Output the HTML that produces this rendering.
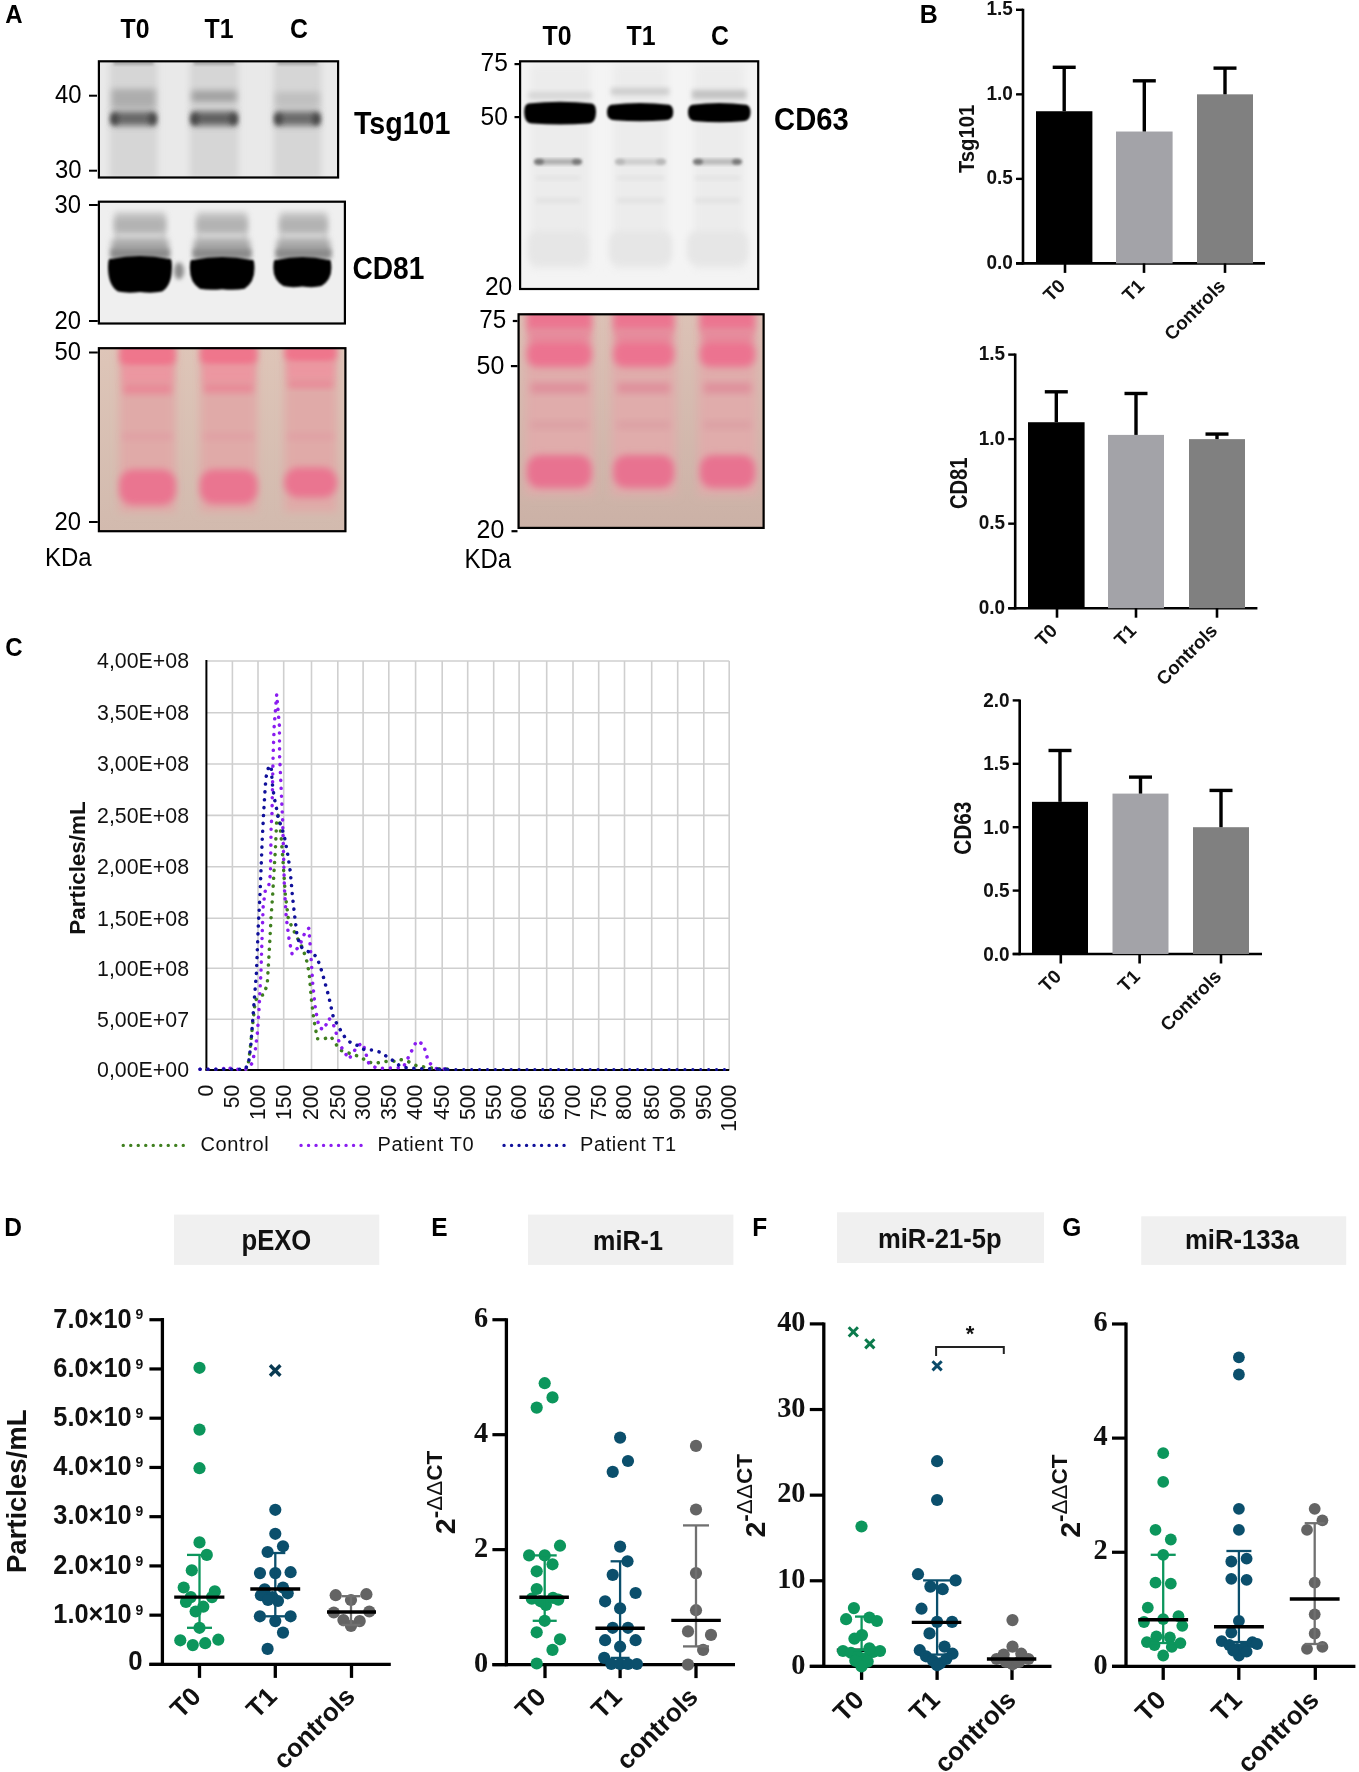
<!DOCTYPE html>
<html><head><meta charset="utf-8"><style>
html,body{margin:0;padding:0;background:#fff;}
body{width:1359px;height:1772px;overflow:hidden;position:relative;font-family:"Liberation Sans",sans-serif;}
svg{position:absolute;left:0;top:0;will-change:transform;}
</style></head><body>
<svg width="1359" height="1772" viewBox="0 0 1359 1772">
<defs><filter id="b3" x="-50%" y="-50%" width="200%" height="200%"><feGaussianBlur stdDeviation="3"/></filter><filter id="b1_5" x="-50%" y="-50%" width="200%" height="200%"><feGaussianBlur stdDeviation="1.5"/></filter><filter id="b2_5" x="-50%" y="-50%" width="200%" height="200%"><feGaussianBlur stdDeviation="2.5"/></filter><filter id="b2" x="-50%" y="-50%" width="200%" height="200%"><feGaussianBlur stdDeviation="2"/></filter><filter id="b1_2" x="-50%" y="-50%" width="200%" height="200%"><feGaussianBlur stdDeviation="1.2"/></filter><linearGradient id="pg1" x1="0" y1="0" x2="0" y2="1"><stop offset="0" stop-color="#dec5b8"/><stop offset="1" stop-color="#d2baae"/></linearGradient><filter id="b4" x="-50%" y="-50%" width="200%" height="200%"><feGaussianBlur stdDeviation="4"/></filter><filter id="b3_5" x="-50%" y="-50%" width="200%" height="200%"><feGaussianBlur stdDeviation="3.5"/></filter><filter id="b1" x="-50%" y="-50%" width="200%" height="200%"><feGaussianBlur stdDeviation="1"/></filter><linearGradient id="pg2" x1="0" y1="0" x2="0" y2="1"><stop offset="0" stop-color="#dcc2b6"/><stop offset="1" stop-color="#cbb1a6"/></linearGradient><filter id="b5" x="-50%" y="-50%" width="200%" height="200%"><feGaussianBlur stdDeviation="5"/></filter></defs>
<text transform="translate(5.2,23.1) scale(0.96,1)" font-family="Liberation Sans" font-size="25" font-weight="bold" text-anchor="start" fill="#000" >A</text>
<text transform="translate(135,37.5) scale(0.92,1)" font-family="Liberation Sans" font-size="27" font-weight="bold" text-anchor="middle" fill="#000" >T0</text>
<text transform="translate(219,37.5) scale(0.92,1)" font-family="Liberation Sans" font-size="27" font-weight="bold" text-anchor="middle" fill="#000" >T1</text>
<text transform="translate(299,37.5) scale(0.92,1)" font-family="Liberation Sans" font-size="27" font-weight="bold" text-anchor="middle" fill="#000" >C</text>
<text transform="translate(557,45.4) scale(0.92,1)" font-family="Liberation Sans" font-size="27" font-weight="bold" text-anchor="middle" fill="#000" >T0</text>
<text transform="translate(641,45.4) scale(0.92,1)" font-family="Liberation Sans" font-size="27" font-weight="bold" text-anchor="middle" fill="#000" >T1</text>
<text transform="translate(720,45.4) scale(0.92,1)" font-family="Liberation Sans" font-size="27" font-weight="bold" text-anchor="middle" fill="#000" >C</text>
<clipPath id="c1"><rect x="97.8" y="60.2" width="241.39999999999998" height="118.39999999999999"/></clipPath>
<g clip-path="url(#c1)">
<rect x="97.8" y="60.2" width="241.39999999999998" height="118.39999999999999" fill="#e9e9e9" />
<rect x="109.6" y="60.2" width="48.0" height="118.39999999999999" fill="#d6d6d6" filter="url(#b3)"/>
<rect x="113.6" y="61" width="40.0" height="4" fill="#a8a8a8" filter="url(#b1_5)"/>
<rect x="111.6" y="89" width="44.0" height="19" fill="#adadad" filter="url(#b3)"/>
<rect x="111.6" y="111.5" width="44.0" height="14" fill="#686868" filter="url(#b3)"/>
<ellipse cx="114.6" cy="119" rx="4" ry="6" fill="#454545" filter="url(#b2_5)"/>
<ellipse cx="152.6" cy="119" rx="4" ry="6" fill="#454545" filter="url(#b2_5)"/>
<rect x="189.7" y="60.2" width="48.900000000000006" height="118.39999999999999" fill="#d6d6d6" filter="url(#b3)"/>
<rect x="193.7" y="61" width="40.900000000000006" height="4" fill="#a8a8a8" filter="url(#b1_5)"/>
<rect x="191.7" y="90.5" width="44.900000000000006" height="11.5" fill="#a2a2a2" filter="url(#b3)"/>
<rect x="191.7" y="111.5" width="44.900000000000006" height="14" fill="#606060" filter="url(#b3)"/>
<ellipse cx="194.7" cy="119" rx="4" ry="6" fill="#454545" filter="url(#b2_5)"/>
<ellipse cx="233.6" cy="119" rx="4" ry="6" fill="#454545" filter="url(#b2_5)"/>
<rect x="273.4" y="60.2" width="47.900000000000034" height="118.39999999999999" fill="#d6d6d6" filter="url(#b3)"/>
<rect x="277.4" y="61" width="39.900000000000034" height="4" fill="#a8a8a8" filter="url(#b1_5)"/>
<rect x="275.4" y="92" width="43.900000000000034" height="15" fill="#c0c0c0" filter="url(#b3)"/>
<rect x="275.4" y="111.5" width="43.900000000000034" height="14" fill="#6a6a6a" filter="url(#b3)"/>
<ellipse cx="278.4" cy="119" rx="4" ry="6" fill="#454545" filter="url(#b2_5)"/>
<ellipse cx="316.3" cy="119" rx="4" ry="6" fill="#454545" filter="url(#b2_5)"/>
</g>
<rect x="98.89999999999999" y="61.300000000000004" width="239.2" height="116.19999999999999" fill="none" stroke="#000" stroke-width="2.2"/>
<text transform="translate(354,134.4) scale(0.905,1)" font-family="Liberation Sans" font-size="31.6" font-weight="bold" text-anchor="start" fill="#000" >Tsg101</text>
<text transform="translate(81.5,103) scale(0.95,1)" font-family="Liberation Sans" font-size="25.1" font-weight="normal" text-anchor="end" fill="#000" >40</text>
<text transform="translate(81.5,178) scale(0.95,1)" font-family="Liberation Sans" font-size="25.1" font-weight="normal" text-anchor="end" fill="#000" >30</text>
<line x1="89" y1="95.7" x2="97" y2="95.7" stroke="#000" stroke-width="2" />
<line x1="89" y1="170.7" x2="97" y2="170.7" stroke="#000" stroke-width="2" />
<clipPath id="c2"><rect x="97.8" y="200.6" width="248.2" height="124.00000000000003"/></clipPath>
<g clip-path="url(#c2)">
<rect x="97.8" y="200.6" width="248.2" height="124.00000000000003" fill="#efefef" />
<rect x="114.7" y="212" width="50.7" height="48" fill="#c8c8c8" filter="url(#b3)"/>
<rect x="114.7" y="218" width="50.7" height="14" fill="#b2b2b2" filter="url(#b3)"/>
<rect x="117.7" y="234" width="44.7" height="6" fill="#d2d2d2" filter="url(#b2)"/>
<rect x="111.7" y="240" width="56.7" height="18" fill="#a8a8a8" filter="url(#b3)"/>
<rect x="110.7" y="249" width="58.7" height="9" fill="#8a8a8a" filter="url(#b2_5)"/>
<path d="M111,259 Q108,257 108,267 Q108,285.5 118,291.5 Q127.2,293.5 140.0,292.0 Q152.8,293.5 162,291.5 Q172,285.5 172,267 Q172,257 169,259 Q140.0,253 111,259Z" fill="#060606" filter="url(#b1_2)"/>
<rect x="197" y="212" width="50" height="48" fill="#c8c8c8" filter="url(#b3)"/>
<rect x="197" y="218" width="50" height="14" fill="#b2b2b2" filter="url(#b3)"/>
<rect x="200" y="234" width="44" height="6" fill="#d2d2d2" filter="url(#b2)"/>
<rect x="194" y="240" width="56" height="18" fill="#a8a8a8" filter="url(#b3)"/>
<rect x="193" y="249" width="58" height="9" fill="#8a8a8a" filter="url(#b2_5)"/>
<path d="M192.8,260 Q189.8,258 189.8,268 Q189.8,282.7 199.8,288.7 Q209.21,290.7 222.15,289.2 Q235.09,290.7 244.5,288.7 Q254.5,282.7 254.5,268 Q254.5,258 251.5,260 Q222.15,254 192.8,260Z" fill="#060606" filter="url(#b1_2)"/>
<rect x="280" y="212" width="47" height="48" fill="#c8c8c8" filter="url(#b3)"/>
<rect x="280" y="218" width="47" height="14" fill="#b2b2b2" filter="url(#b3)"/>
<rect x="283" y="234" width="41" height="6" fill="#d2d2d2" filter="url(#b2)"/>
<rect x="277" y="240" width="53" height="18" fill="#a8a8a8" filter="url(#b3)"/>
<rect x="276" y="249" width="55" height="9" fill="#8a8a8a" filter="url(#b2_5)"/>
<path d="M276.3,260 Q273.3,258 273.3,268 Q273.3,280 283.3,286 Q290.73,288 302.35,286.5 Q313.96999999999997,288 321.4,286 Q331.4,280 331.4,268 Q331.4,258 328.4,260 Q302.35,254 276.3,260Z" fill="#060606" filter="url(#b1_2)"/>
<ellipse cx="179" cy="271" rx="5" ry="8.5" fill="#8c8c8c" filter="url(#b2)"/>
</g>
<rect x="98.89999999999999" y="201.7" width="246.0" height="121.80000000000003" fill="none" stroke="#000" stroke-width="2.2"/>
<text transform="translate(352.4,278.7) scale(0.89,1)" font-family="Liberation Sans" font-size="31.6" font-weight="bold" text-anchor="start" fill="#000" >CD81</text>
<text transform="translate(81,213) scale(0.95,1)" font-family="Liberation Sans" font-size="25.1" font-weight="normal" text-anchor="end" fill="#000" >30</text>
<text transform="translate(81,329) scale(0.95,1)" font-family="Liberation Sans" font-size="25.1" font-weight="normal" text-anchor="end" fill="#000" >20</text>
<line x1="89" y1="205" x2="97.8" y2="205" stroke="#000" stroke-width="2" />
<line x1="89" y1="321" x2="97.8" y2="321" stroke="#000" stroke-width="2" />
<clipPath id="c3"><rect x="97.8" y="347.1" width="248.7" height="185.19999999999993"/></clipPath>
<g clip-path="url(#c3)">
<rect x="97.8" y="347.1" width="248.7" height="185.19999999999993" fill="url(#pg1)" />
<rect x="119.4" y="347.1" width="56.29999999999998" height="165" fill="#e0aaa8" filter="url(#b4)"/>
<rect x="119.4" y="340" width="56.29999999999998" height="28" rx="10" fill="#ef768c" filter="url(#b3)"/>
<rect x="122.4" y="366" width="50.29999999999998" height="17" fill="#ec96a0" filter="url(#b3)"/>
<rect x="123.4" y="383" width="48.29999999999998" height="11.399999999999977" fill="#e88b98" filter="url(#b3)"/>
<rect x="123.4" y="433" width="48.29999999999998" height="7" fill="#e0a0a4" filter="url(#b3)"/>
<rect x="119.4" y="469.5" width="56.29999999999998" height="35.5" rx="14" fill="#ea7590" filter="url(#b3_5)"/>
<rect x="200" y="347.1" width="57.30000000000001" height="165" fill="#e0aaa8" filter="url(#b4)"/>
<rect x="200" y="340" width="57.30000000000001" height="27" rx="10" fill="#ef768c" filter="url(#b3)"/>
<rect x="203" y="365" width="51.30000000000001" height="18" fill="#ec96a0" filter="url(#b3)"/>
<rect x="204" y="383" width="49.30000000000001" height="10" fill="#e88b98" filter="url(#b3)"/>
<rect x="204" y="433" width="49.30000000000001" height="7" fill="#e0a0a4" filter="url(#b3)"/>
<rect x="200" y="469.5" width="57.30000000000001" height="34.5" rx="14" fill="#ea7590" filter="url(#b3_5)"/>
<rect x="284.5" y="347.1" width="52.5" height="165" fill="#e0aaa8" filter="url(#b4)"/>
<rect x="284.5" y="340" width="52.5" height="24" rx="10" fill="#ef768c" filter="url(#b3)"/>
<rect x="287.5" y="362" width="46.5" height="18" fill="#ec96a0" filter="url(#b3)"/>
<rect x="288.5" y="380" width="44.5" height="8" fill="#e88b98" filter="url(#b3)"/>
<rect x="288.5" y="433" width="44.5" height="7" fill="#e0a0a4" filter="url(#b3)"/>
<rect x="284.5" y="467.6" width="52.5" height="30.0" rx="14" fill="#ea7590" filter="url(#b3_5)"/>
</g>
<rect x="98.89999999999999" y="348.20000000000005" width="246.5" height="182.99999999999994" fill="none" stroke="#000" stroke-width="2.2"/>
<text transform="translate(81,360) scale(0.95,1)" font-family="Liberation Sans" font-size="25.1" font-weight="normal" text-anchor="end" fill="#000" >50</text>
<text transform="translate(81,529.6) scale(0.95,1)" font-family="Liberation Sans" font-size="25.1" font-weight="normal" text-anchor="end" fill="#000" >20</text>
<line x1="89" y1="352.5" x2="97.8" y2="352.5" stroke="#000" stroke-width="2" />
<line x1="89" y1="522" x2="97.8" y2="522" stroke="#000" stroke-width="2" />
<text transform="translate(44.9,565.6) scale(0.905,1)" font-family="Liberation Sans" font-size="26.5" font-weight="normal" text-anchor="start" fill="#000" >KDa</text>
<clipPath id="c4"><rect x="519" y="60.2" width="240.29999999999995" height="229.90000000000003"/></clipPath>
<g clip-path="url(#c4)">
<rect x="519" y="60.2" width="240.29999999999995" height="229.90000000000003" fill="#f4f4f4" />
<rect x="530.2" y="64" width="59.799999999999955" height="205" fill="#ececec" filter="url(#b4)"/>
<rect x="528.2" y="92" width="63.799999999999955" height="7" fill="#d6d6d6" filter="url(#b2_5)"/>
<rect x="536" y="159.5" width="44" height="4.5" fill="#9a9a9a" filter="url(#b2)"/>
<ellipse cx="539" cy="161.7" rx="5" ry="2.8" fill="#767676" filter="url(#b1_5)"/>
<ellipse cx="577" cy="161.7" rx="5" ry="2.8" fill="#767676" filter="url(#b1_5)"/>
<rect x="536" y="176" width="44" height="4" fill="#e2e2e2" filter="url(#b2)"/>
<rect x="536" y="198" width="44" height="5" fill="#e2e2e2" filter="url(#b2)"/>
<rect x="528" y="231" width="60" height="34" rx="10" fill="#e6e6e6" filter="url(#b3)"/>
<path d="M528.2,103.5 Q524.2,104.5 524.2,111.5 Q524.2,123.4 532.2,123.4 Q560.1,125.4 588,123.4 Q596,123.4 596,111.5 Q596,104.5 592,103.5 Q560.1,100.0 528.2,103.5Z" fill="#050505" filter="url(#b1)"/>
<rect x="613" y="64" width="54.200000000000045" height="205" fill="#ececec" filter="url(#b4)"/>
<rect x="611" y="88" width="58.200000000000045" height="7" fill="#cdcdcd" filter="url(#b2_5)"/>
<rect x="617" y="159.5" width="47" height="4.5" fill="#c4c4c4" filter="url(#b2)"/>
<ellipse cx="620" cy="161.7" rx="5" ry="2.8" fill="#b8b8b8" filter="url(#b1_5)"/>
<ellipse cx="661" cy="161.7" rx="5" ry="2.8" fill="#b8b8b8" filter="url(#b1_5)"/>
<rect x="617" y="176" width="47" height="4" fill="#e2e2e2" filter="url(#b2)"/>
<rect x="617" y="198" width="47" height="5" fill="#e2e2e2" filter="url(#b2)"/>
<rect x="609" y="231" width="63" height="34" rx="10" fill="#e6e6e6" filter="url(#b3)"/>
<path d="M611,104.7 Q607,105.7 607,112.7 Q607,120.3 615,120.3 Q640.1,122.3 665.2,120.3 Q673.2,120.3 673.2,112.7 Q673.2,105.7 669.2,104.7 Q640.1,101.2 611,104.7Z" fill="#050505" filter="url(#b1)"/>
<rect x="694" y="64" width="50.5" height="205" fill="#ececec" filter="url(#b4)"/>
<rect x="692" y="90" width="54.5" height="9" fill="#c2c2c2" filter="url(#b2_5)"/>
<rect x="695" y="159.5" width="45" height="4.5" fill="#a8a8a8" filter="url(#b2)"/>
<ellipse cx="698" cy="161.7" rx="5" ry="2.8" fill="#767676" filter="url(#b1_5)"/>
<ellipse cx="737" cy="161.7" rx="5" ry="2.8" fill="#767676" filter="url(#b1_5)"/>
<rect x="695" y="176" width="45" height="4" fill="#e2e2e2" filter="url(#b2)"/>
<rect x="695" y="198" width="45" height="5" fill="#e2e2e2" filter="url(#b2)"/>
<rect x="687" y="231" width="61" height="34" rx="10" fill="#e6e6e6" filter="url(#b3)"/>
<path d="M692,104.7 Q688,105.7 688,112.7 Q688,121.2 696,121.2 Q719.25,123.2 742.5,121.2 Q750.5,121.2 750.5,112.7 Q750.5,105.7 746.5,104.7 Q719.25,101.2 692,104.7Z" fill="#050505" filter="url(#b1)"/>
</g>
<rect x="520.1" y="61.300000000000004" width="238.09999999999997" height="227.70000000000005" fill="none" stroke="#000" stroke-width="2.2"/>
<text transform="translate(774.1,130.4) scale(0.93,1)" font-family="Liberation Sans" font-size="31.4" font-weight="bold" text-anchor="start" fill="#000" >CD63</text>
<text transform="translate(507.8,70.8) scale(0.97,1)" font-family="Liberation Sans" font-size="25.3" font-weight="normal" text-anchor="end" fill="#000" >75</text>
<text transform="translate(507.8,125) scale(0.97,1)" font-family="Liberation Sans" font-size="25.3" font-weight="normal" text-anchor="end" fill="#000" >50</text>
<text transform="translate(512.2,294.6) scale(0.97,1)" font-family="Liberation Sans" font-size="25.3" font-weight="normal" text-anchor="end" fill="#000" >20</text>
<line x1="514.5" y1="64.1" x2="519" y2="64.1" stroke="#000" stroke-width="2.2" />
<line x1="514.5" y1="117.1" x2="519" y2="117.1" stroke="#000" stroke-width="2.2" />
<clipPath id="c5"><rect x="517.5" y="313.2" width="247.20000000000005" height="215.8"/></clipPath>
<g clip-path="url(#c5)">
<rect x="517.5" y="313.2" width="247.20000000000005" height="215.8" fill="url(#pg2)" />
<rect x="525" y="313.2" width="68.60000000000002" height="182" fill="#e0acab" filter="url(#b5)"/>
<rect x="527" y="305" width="64.60000000000002" height="28" rx="8" fill="#ec7590" filter="url(#b3_5)"/>
<rect x="529" y="328" width="60.60000000000002" height="16" fill="#e68c9c" filter="url(#b3_5)"/>
<rect x="527" y="341" width="64.60000000000002" height="26" rx="10" fill="#ec7390" filter="url(#b3_5)"/>
<rect x="531" y="383" width="56.60000000000002" height="10" fill="#df8f9b" filter="url(#b3_5)"/>
<rect x="531" y="421" width="56.60000000000002" height="8" fill="#dca0a4" filter="url(#b3_5)"/>
<rect x="527" y="455" width="64.60000000000002" height="33" rx="13" fill="#e87290" filter="url(#b3_5)"/>
<rect x="611.5" y="313.2" width="64.5" height="182" fill="#e0acab" filter="url(#b5)"/>
<rect x="613.5" y="305" width="60.5" height="28" rx="8" fill="#ec7590" filter="url(#b3_5)"/>
<rect x="615.5" y="328" width="56.5" height="16" fill="#e68c9c" filter="url(#b3_5)"/>
<rect x="613.5" y="341" width="60.5" height="26" rx="10" fill="#ec7390" filter="url(#b3_5)"/>
<rect x="617.5" y="383" width="52.5" height="10" fill="#df8f9b" filter="url(#b3_5)"/>
<rect x="617.5" y="421" width="52.5" height="8" fill="#dca0a4" filter="url(#b3_5)"/>
<rect x="613.5" y="455" width="60.5" height="33" rx="13" fill="#e87290" filter="url(#b3_5)"/>
<rect x="698" y="313.2" width="59" height="182" fill="#e0acab" filter="url(#b5)"/>
<rect x="700" y="305" width="55" height="28" rx="8" fill="#ec7590" filter="url(#b3_5)"/>
<rect x="702" y="328" width="51" height="16" fill="#e68c9c" filter="url(#b3_5)"/>
<rect x="700" y="341" width="55" height="26" rx="10" fill="#ec7390" filter="url(#b3_5)"/>
<rect x="704" y="383" width="47" height="10" fill="#df8f9b" filter="url(#b3_5)"/>
<rect x="704" y="421" width="47" height="8" fill="#dca0a4" filter="url(#b3_5)"/>
<rect x="700" y="455" width="55" height="33" rx="13" fill="#e87290" filter="url(#b3_5)"/>
</g>
<rect x="518.6" y="314.3" width="245.00000000000006" height="213.60000000000002" fill="none" stroke="#000" stroke-width="2.2"/>
<text transform="translate(506.3,328.2) scale(0.97,1)" font-family="Liberation Sans" font-size="25" font-weight="normal" text-anchor="end" fill="#000" >75</text>
<text transform="translate(504.3,373.6) scale(0.97,1)" font-family="Liberation Sans" font-size="25.7" font-weight="normal" text-anchor="end" fill="#000" >50</text>
<text transform="translate(504.3,538) scale(0.97,1)" font-family="Liberation Sans" font-size="25.7" font-weight="normal" text-anchor="end" fill="#000" >20</text>
<line x1="512.8" y1="321" x2="517.5" y2="321" stroke="#000" stroke-width="2.2" />
<line x1="510.9" y1="366.1" x2="517.5" y2="366.1" stroke="#000" stroke-width="2.2" />
<line x1="511.5" y1="531.2" x2="517.5" y2="531.2" stroke="#000" stroke-width="2.2" />
<text transform="translate(464.4,567.8) scale(0.895,1)" font-family="Liberation Sans" font-size="26.8" font-weight="normal" text-anchor="start" fill="#000" >KDa</text>
<text transform="translate(919.8,23) scale(0.96,1)" font-family="Liberation Sans" font-size="26" font-weight="bold" text-anchor="start" fill="#000" >B</text>
<line x1="1023" y1="8.8" x2="1023" y2="264.59999999999997" stroke="#000" stroke-width="2.6" />
<line x1="1016" y1="263.4" x2="1265" y2="263.4" stroke="#000" stroke-width="2.6" />
<line x1="1016" y1="263.4" x2="1023" y2="263.4" stroke="#000" stroke-width="2.4" />
<text transform="translate(1012.9,268.9) scale(0.95,1)" font-family="Liberation Sans" font-size="20" font-weight="bold" text-anchor="end" fill="#111" >0.0</text>
<line x1="1016" y1="178.86666666666667" x2="1023" y2="178.86666666666667" stroke="#000" stroke-width="2.4" />
<text transform="translate(1012.9,184.36666666666667) scale(0.95,1)" font-family="Liberation Sans" font-size="20" font-weight="bold" text-anchor="end" fill="#111" >0.5</text>
<line x1="1016" y1="94.33333333333334" x2="1023" y2="94.33333333333334" stroke="#000" stroke-width="2.4" />
<text transform="translate(1012.9,99.83333333333334) scale(0.95,1)" font-family="Liberation Sans" font-size="20" font-weight="bold" text-anchor="end" fill="#111" >1.0</text>
<line x1="1016" y1="9.800000000000011" x2="1023" y2="9.800000000000011" stroke="#000" stroke-width="2.4" />
<text transform="translate(1012.9,15.300000000000011) scale(0.95,1)" font-family="Liberation Sans" font-size="20" font-weight="bold" text-anchor="end" fill="#111" >1.5</text>
<rect x="1036" y="111.24000000000001" width="56.40000000000009" height="152.15999999999997" fill="#000000" />
<line x1="1064.2" y1="111.24000000000001" x2="1064.2" y2="67.28266666666667" stroke="#000" stroke-width="3.4" />
<line x1="1052.7" y1="67.28266666666667" x2="1075.7" y2="67.28266666666667" stroke="#000" stroke-width="3.4" />
<line x1="1065" y1="263.4" x2="1065" y2="272.9" stroke="#000" stroke-width="2.6" />
<rect x="1116" y="131.528" width="56.59999999999991" height="131.87199999999999" fill="#a3a3a8" />
<line x1="1144.3" y1="131.528" x2="1144.3" y2="80.80799999999999" stroke="#000" stroke-width="3.4" />
<line x1="1132.8" y1="80.80799999999999" x2="1155.8" y2="80.80799999999999" stroke="#000" stroke-width="3.4" />
<line x1="1144" y1="263.4" x2="1144" y2="272.9" stroke="#000" stroke-width="2.6" />
<rect x="1197" y="94.33333333333334" width="56" height="169.06666666666663" fill="#808080" />
<line x1="1225.0" y1="94.33333333333334" x2="1225.0" y2="68.12800000000001" stroke="#000" stroke-width="3.4" />
<line x1="1213.5" y1="68.12800000000001" x2="1236.5" y2="68.12800000000001" stroke="#000" stroke-width="3.4" />
<line x1="1225" y1="263.4" x2="1225" y2="272.9" stroke="#000" stroke-width="2.6" />
<text transform="translate(974.3,138.9) rotate(-90) scale(0.92,1)" font-family="Liberation Sans" font-size="22" font-weight="bold" text-anchor="middle" fill="#111">Tsg101</text>
<text transform="translate(1066.5,287) rotate(-45)" font-family="Liberation Sans" font-size="18.8" font-weight="bold" text-anchor="end" fill="#111">T0</text>
<text transform="translate(1145.5,287) rotate(-45)" font-family="Liberation Sans" font-size="18.8" font-weight="bold" text-anchor="end" fill="#111">T1</text>
<text transform="translate(1226.5,287) rotate(-45)" font-family="Liberation Sans" font-size="18.8" font-weight="bold" text-anchor="end" fill="#111">Controls</text>
<line x1="1015.2" y1="353.6" x2="1015.2" y2="609.4000000000001" stroke="#000" stroke-width="2.6" />
<line x1="1008.2" y1="608.2" x2="1257.4" y2="608.2" stroke="#000" stroke-width="2.6" />
<line x1="1008.2" y1="608.2" x2="1015.2" y2="608.2" stroke="#000" stroke-width="2.4" />
<text transform="translate(1005.1,614.0) scale(0.95,1)" font-family="Liberation Sans" font-size="20" font-weight="bold" text-anchor="end" fill="#111" >0.0</text>
<line x1="1008.2" y1="523.6666666666667" x2="1015.2" y2="523.6666666666667" stroke="#000" stroke-width="2.4" />
<text transform="translate(1005.1,529.4666666666667) scale(0.95,1)" font-family="Liberation Sans" font-size="20" font-weight="bold" text-anchor="end" fill="#111" >0.5</text>
<line x1="1008.2" y1="439.1333333333333" x2="1015.2" y2="439.1333333333333" stroke="#000" stroke-width="2.4" />
<text transform="translate(1005.1,444.93333333333334) scale(0.95,1)" font-family="Liberation Sans" font-size="20" font-weight="bold" text-anchor="end" fill="#111" >1.0</text>
<line x1="1008.2" y1="354.6" x2="1015.2" y2="354.6" stroke="#000" stroke-width="2.4" />
<text transform="translate(1005.1,360.40000000000003) scale(0.95,1)" font-family="Liberation Sans" font-size="20" font-weight="bold" text-anchor="end" fill="#111" >1.5</text>
<rect x="1028" y="422.2266666666667" width="56.59999999999991" height="185.97333333333336" fill="#000000" />
<line x1="1056.3" y1="422.2266666666667" x2="1056.3" y2="391.79466666666667" stroke="#000" stroke-width="3.4" />
<line x1="1044.8" y1="391.79466666666667" x2="1067.8" y2="391.79466666666667" stroke="#000" stroke-width="3.4" />
<line x1="1057" y1="608.2" x2="1057" y2="617.7" stroke="#000" stroke-width="2.6" />
<rect x="1108" y="434.9066666666667" width="56" height="173.29333333333335" fill="#a3a3a8" />
<line x1="1136.0" y1="434.9066666666667" x2="1136.0" y2="393.48533333333336" stroke="#000" stroke-width="3.4" />
<line x1="1124.5" y1="393.48533333333336" x2="1147.5" y2="393.48533333333336" stroke="#000" stroke-width="3.4" />
<line x1="1136" y1="608.2" x2="1136" y2="617.7" stroke="#000" stroke-width="2.6" />
<rect x="1189" y="439.1333333333333" width="56" height="169.06666666666672" fill="#808080" />
<line x1="1217.0" y1="439.1333333333333" x2="1217.0" y2="434.0613333333333" stroke="#000" stroke-width="3.4" />
<line x1="1205.5" y1="434.0613333333333" x2="1228.5" y2="434.0613333333333" stroke="#000" stroke-width="3.4" />
<line x1="1217" y1="608.2" x2="1217" y2="617.7" stroke="#000" stroke-width="2.6" />
<text transform="translate(967.4,483.25) rotate(-90) scale(0.875,1)" font-family="Liberation Sans" font-size="23.1" font-weight="bold" text-anchor="middle" fill="#111">CD81</text>
<text transform="translate(1058.5,631.8) rotate(-45)" font-family="Liberation Sans" font-size="18.8" font-weight="bold" text-anchor="end" fill="#111">T0</text>
<text transform="translate(1137.5,631.8) rotate(-45)" font-family="Liberation Sans" font-size="18.8" font-weight="bold" text-anchor="end" fill="#111">T1</text>
<text transform="translate(1218.5,631.8) rotate(-45)" font-family="Liberation Sans" font-size="18.8" font-weight="bold" text-anchor="end" fill="#111">Controls</text>
<line x1="1019.7" y1="699.4" x2="1019.7" y2="955.2" stroke="#000" stroke-width="2.6" />
<line x1="1012.7" y1="954" x2="1262" y2="954" stroke="#000" stroke-width="2.6" />
<line x1="1012.7" y1="954.0" x2="1019.7" y2="954.0" stroke="#000" stroke-width="2.4" />
<text transform="translate(1009.6,960.5) scale(0.95,1)" font-family="Liberation Sans" font-size="20" font-weight="bold" text-anchor="end" fill="#111" >0.0</text>
<line x1="1012.7" y1="890.6" x2="1019.7" y2="890.6" stroke="#000" stroke-width="2.4" />
<text transform="translate(1009.6,897.1) scale(0.95,1)" font-family="Liberation Sans" font-size="20" font-weight="bold" text-anchor="end" fill="#111" >0.5</text>
<line x1="1012.7" y1="827.2" x2="1019.7" y2="827.2" stroke="#000" stroke-width="2.4" />
<text transform="translate(1009.6,833.7) scale(0.95,1)" font-family="Liberation Sans" font-size="20" font-weight="bold" text-anchor="end" fill="#111" >1.0</text>
<line x1="1012.7" y1="763.8" x2="1019.7" y2="763.8" stroke="#000" stroke-width="2.4" />
<text transform="translate(1009.6,770.3) scale(0.95,1)" font-family="Liberation Sans" font-size="20" font-weight="bold" text-anchor="end" fill="#111" >1.5</text>
<line x1="1012.7" y1="700.4" x2="1019.7" y2="700.4" stroke="#000" stroke-width="2.4" />
<text transform="translate(1009.6,706.9) scale(0.95,1)" font-family="Liberation Sans" font-size="20" font-weight="bold" text-anchor="end" fill="#111" >2.0</text>
<rect x="1032" y="801.84" width="56" height="152.15999999999997" fill="#000000" />
<line x1="1060.0" y1="801.84" x2="1060.0" y2="750.486" stroke="#000" stroke-width="3.4" />
<line x1="1048.5" y1="750.486" x2="1071.5" y2="750.486" stroke="#000" stroke-width="3.4" />
<line x1="1060.8" y1="954" x2="1060.8" y2="963.5" stroke="#000" stroke-width="2.6" />
<rect x="1112.5" y="793.598" width="56.0" height="160.40200000000004" fill="#a3a3a8" />
<line x1="1140.5" y1="793.598" x2="1140.5" y2="777.114" stroke="#000" stroke-width="3.4" />
<line x1="1129.0" y1="777.114" x2="1152.0" y2="777.114" stroke="#000" stroke-width="3.4" />
<line x1="1139.6" y1="954" x2="1139.6" y2="963.5" stroke="#000" stroke-width="2.6" />
<rect x="1193" y="827.2" width="56" height="126.79999999999995" fill="#808080" />
<line x1="1221.0" y1="827.2" x2="1221.0" y2="790.428" stroke="#000" stroke-width="3.4" />
<line x1="1209.5" y1="790.428" x2="1232.5" y2="790.428" stroke="#000" stroke-width="3.4" />
<line x1="1221" y1="954" x2="1221" y2="963.5" stroke="#000" stroke-width="2.6" />
<text transform="translate(971.2,828.3) rotate(-90) scale(0.9,1)" font-family="Liberation Sans" font-size="23.1" font-weight="bold" text-anchor="middle" fill="#111">CD63</text>
<text transform="translate(1062.3,977.6) rotate(-45)" font-family="Liberation Sans" font-size="18.8" font-weight="bold" text-anchor="end" fill="#111">T0</text>
<text transform="translate(1141.1,977.6) rotate(-45)" font-family="Liberation Sans" font-size="18.8" font-weight="bold" text-anchor="end" fill="#111">T1</text>
<text transform="translate(1222.5,977.6) rotate(-45)" font-family="Liberation Sans" font-size="18.8" font-weight="bold" text-anchor="end" fill="#111">Controls</text>
<text transform="translate(5.2,656.2) scale(0.96,1)" font-family="Liberation Sans" font-size="25" font-weight="bold" text-anchor="start" fill="#000" >C</text>
<line x1="232.4" y1="661" x2="232.4" y2="1070" stroke="#cfcfcf" stroke-width="1.6" />
<line x1="258" y1="661" x2="258" y2="1070" stroke="#cfcfcf" stroke-width="1.6" />
<line x1="283.7" y1="661" x2="283.7" y2="1070" stroke="#cfcfcf" stroke-width="1.6" />
<line x1="311.5" y1="661" x2="311.5" y2="1070" stroke="#cfcfcf" stroke-width="1.6" />
<line x1="337.8" y1="661" x2="337.8" y2="1070" stroke="#cfcfcf" stroke-width="1.6" />
<line x1="363.1" y1="661" x2="363.1" y2="1070" stroke="#cfcfcf" stroke-width="1.6" />
<line x1="388.8" y1="661" x2="388.8" y2="1070" stroke="#cfcfcf" stroke-width="1.6" />
<line x1="415.6" y1="661" x2="415.6" y2="1070" stroke="#cfcfcf" stroke-width="1.6" />
<line x1="442.2" y1="661" x2="442.2" y2="1070" stroke="#cfcfcf" stroke-width="1.6" />
<line x1="467.7" y1="661" x2="467.7" y2="1070" stroke="#cfcfcf" stroke-width="1.6" />
<line x1="493.7" y1="661" x2="493.7" y2="1070" stroke="#cfcfcf" stroke-width="1.6" />
<line x1="519.1" y1="661" x2="519.1" y2="1070" stroke="#cfcfcf" stroke-width="1.6" />
<line x1="546.7" y1="661" x2="546.7" y2="1070" stroke="#cfcfcf" stroke-width="1.6" />
<line x1="573" y1="661" x2="573" y2="1070" stroke="#cfcfcf" stroke-width="1.6" />
<line x1="598.7" y1="661" x2="598.7" y2="1070" stroke="#cfcfcf" stroke-width="1.6" />
<line x1="624.5" y1="661" x2="624.5" y2="1070" stroke="#cfcfcf" stroke-width="1.6" />
<line x1="651.7" y1="661" x2="651.7" y2="1070" stroke="#cfcfcf" stroke-width="1.6" />
<line x1="677.7" y1="661" x2="677.7" y2="1070" stroke="#cfcfcf" stroke-width="1.6" />
<line x1="703.8" y1="661" x2="703.8" y2="1070" stroke="#cfcfcf" stroke-width="1.6" />
<line x1="729.2" y1="661" x2="729.2" y2="1070" stroke="#cfcfcf" stroke-width="1.6" />
<line x1="206.4" y1="661" x2="729.2" y2="661" stroke="#cfcfcf" stroke-width="1.6" />
<line x1="206.4" y1="712.8" x2="729.2" y2="712.8" stroke="#cfcfcf" stroke-width="1.6" />
<line x1="206.4" y1="764" x2="729.2" y2="764" stroke="#cfcfcf" stroke-width="1.6" />
<line x1="206.4" y1="815.4" x2="729.2" y2="815.4" stroke="#cfcfcf" stroke-width="1.6" />
<line x1="206.4" y1="866.8" x2="729.2" y2="866.8" stroke="#cfcfcf" stroke-width="1.6" />
<line x1="206.4" y1="918.2" x2="729.2" y2="918.2" stroke="#cfcfcf" stroke-width="1.6" />
<line x1="206.4" y1="968.2" x2="729.2" y2="968.2" stroke="#cfcfcf" stroke-width="1.6" />
<line x1="206.4" y1="1019.2" x2="729.2" y2="1019.2" stroke="#cfcfcf" stroke-width="1.6" />
<text transform="translate(189,1077.4) scale(0.957,1)" font-family="Liberation Sans" font-size="22.3" font-weight="normal" text-anchor="end" fill="#111" >0,00E+00</text>
<text transform="translate(189,1026.6000000000001) scale(0.957,1)" font-family="Liberation Sans" font-size="22.3" font-weight="normal" text-anchor="end" fill="#111" >5,00E+07</text>
<text transform="translate(189,975.6) scale(0.957,1)" font-family="Liberation Sans" font-size="22.3" font-weight="normal" text-anchor="end" fill="#111" >1,00E+08</text>
<text transform="translate(189,925.6) scale(0.957,1)" font-family="Liberation Sans" font-size="22.3" font-weight="normal" text-anchor="end" fill="#111" >1,50E+08</text>
<text transform="translate(189,874.1999999999999) scale(0.957,1)" font-family="Liberation Sans" font-size="22.3" font-weight="normal" text-anchor="end" fill="#111" >2,00E+08</text>
<text transform="translate(189,822.8) scale(0.957,1)" font-family="Liberation Sans" font-size="22.3" font-weight="normal" text-anchor="end" fill="#111" >2,50E+08</text>
<text transform="translate(189,771.4) scale(0.957,1)" font-family="Liberation Sans" font-size="22.3" font-weight="normal" text-anchor="end" fill="#111" >3,00E+08</text>
<text transform="translate(189,720.1999999999999) scale(0.957,1)" font-family="Liberation Sans" font-size="22.3" font-weight="normal" text-anchor="end" fill="#111" >3,50E+08</text>
<text transform="translate(189,668.4) scale(0.957,1)" font-family="Liberation Sans" font-size="22.3" font-weight="normal" text-anchor="end" fill="#111" >4,00E+08</text>
<text transform="translate(213.20000000000002,1084.8) rotate(-90) scale(0.96,1)" font-family="Liberation Sans" font-size="22" text-anchor="end" fill="#111">0</text>
<text transform="translate(239.20000000000002,1084.8) rotate(-90) scale(0.96,1)" font-family="Liberation Sans" font-size="22" text-anchor="end" fill="#111">50</text>
<text transform="translate(264.8,1084.8) rotate(-90) scale(0.96,1)" font-family="Liberation Sans" font-size="22" text-anchor="end" fill="#111">100</text>
<text transform="translate(290.5,1084.8) rotate(-90) scale(0.96,1)" font-family="Liberation Sans" font-size="22" text-anchor="end" fill="#111">150</text>
<text transform="translate(318.3,1084.8) rotate(-90) scale(0.96,1)" font-family="Liberation Sans" font-size="22" text-anchor="end" fill="#111">200</text>
<text transform="translate(344.6,1084.8) rotate(-90) scale(0.96,1)" font-family="Liberation Sans" font-size="22" text-anchor="end" fill="#111">250</text>
<text transform="translate(369.90000000000003,1084.8) rotate(-90) scale(0.96,1)" font-family="Liberation Sans" font-size="22" text-anchor="end" fill="#111">300</text>
<text transform="translate(395.6,1084.8) rotate(-90) scale(0.96,1)" font-family="Liberation Sans" font-size="22" text-anchor="end" fill="#111">350</text>
<text transform="translate(422.40000000000003,1084.8) rotate(-90) scale(0.96,1)" font-family="Liberation Sans" font-size="22" text-anchor="end" fill="#111">400</text>
<text transform="translate(449.0,1084.8) rotate(-90) scale(0.96,1)" font-family="Liberation Sans" font-size="22" text-anchor="end" fill="#111">450</text>
<text transform="translate(474.5,1084.8) rotate(-90) scale(0.96,1)" font-family="Liberation Sans" font-size="22" text-anchor="end" fill="#111">500</text>
<text transform="translate(500.5,1084.8) rotate(-90) scale(0.96,1)" font-family="Liberation Sans" font-size="22" text-anchor="end" fill="#111">550</text>
<text transform="translate(525.9,1084.8) rotate(-90) scale(0.96,1)" font-family="Liberation Sans" font-size="22" text-anchor="end" fill="#111">600</text>
<text transform="translate(553.5,1084.8) rotate(-90) scale(0.96,1)" font-family="Liberation Sans" font-size="22" text-anchor="end" fill="#111">650</text>
<text transform="translate(579.8,1084.8) rotate(-90) scale(0.96,1)" font-family="Liberation Sans" font-size="22" text-anchor="end" fill="#111">700</text>
<text transform="translate(605.5,1084.8) rotate(-90) scale(0.96,1)" font-family="Liberation Sans" font-size="22" text-anchor="end" fill="#111">750</text>
<text transform="translate(631.3,1084.8) rotate(-90) scale(0.96,1)" font-family="Liberation Sans" font-size="22" text-anchor="end" fill="#111">800</text>
<text transform="translate(658.5,1084.8) rotate(-90) scale(0.96,1)" font-family="Liberation Sans" font-size="22" text-anchor="end" fill="#111">850</text>
<text transform="translate(684.5,1084.8) rotate(-90) scale(0.96,1)" font-family="Liberation Sans" font-size="22" text-anchor="end" fill="#111">900</text>
<text transform="translate(710.5999999999999,1084.8) rotate(-90) scale(0.96,1)" font-family="Liberation Sans" font-size="22" text-anchor="end" fill="#111">950</text>
<text transform="translate(736.0,1084.8) rotate(-90) scale(0.96,1)" font-family="Liberation Sans" font-size="22" text-anchor="end" fill="#111">1000</text>
<text transform="translate(85.2,868) rotate(-90) scale(0.98,1)" font-family="Liberation Sans" font-size="22.9" font-weight="bold" text-anchor="middle" fill="#111">Particles/mL</text>
<line x1="206.4" y1="660" x2="206.4" y2="1070.5" stroke="#000" stroke-width="2" />
<line x1="205.5" y1="1070" x2="729.2" y2="1070" stroke="#000" stroke-width="2.2" />
<line x1="729.2" y1="1070" x2="729.2" y2="1070" stroke="#000" stroke-width="1" />
<polyline points="246.3,1069.2 247.8,1067.0 250.1,1050.0 252.3,1027.5 255.3,1000.4 259.1,995.9 263.6,994.8 267.2,984.6 268.6,962.0 269.9,939.5 271.1,916.9 272.7,894.4 274.0,871.8 275.4,849.2 276.7,819.9 278.1,815.4 279.4,819.9 281.2,837.9 283.0,860.5 285.3,894.4 288.4,919.2 292.5,928.2 297.0,937.2 301.5,946.2 306.0,957.5 309.2,973.3 311.5,1000.4 313.7,1018.4 317.3,1038.8 324.1,1038.8 330.9,1036.5 335.4,1043.3 339.9,1050.0 346.7,1052.3 353.4,1054.5 360.2,1056.8 367.0,1061.3 373.7,1063.6 380.5,1062.4 387.3,1061.3 394.0,1061.3 398.6,1059.1 407.6,1061.3 416.6,1065.8 425.6,1067.2 434.7,1068.5 450.5,1069.2" fill="none" stroke="#3f7f1f" stroke-width="3.5" stroke-dasharray="0.1 7.8" stroke-linecap="round" stroke-linejoin="round"/>
<polyline points="200.0,1069.2 222.6,1069.2 227.1,1066.3 231.6,1069.2 246.3,1069.2 251.9,1063.6 255.3,1050.0 257.5,1032.0 259.1,1007.2 260.9,973.3 262.0,939.5 263.2,905.6 265.4,889.8 268.8,885.3 270.4,874.0 270.8,851.5 271.1,828.0 272.0,812.9 273.1,756.0 274.2,725.8 276.7,694.4 279.4,725.8 279.6,756.0 280.8,781.5 281.9,805.0 282.6,819.9 283.5,851.5 284.4,887.6 286.2,916.9 289.1,939.5 292.1,954.1 299.3,946.2 304.9,932.7 308.8,928.2 310.6,950.8 312.8,984.6 315.5,1009.4 319.1,1027.5 323.6,1029.7 329.1,1018.4 333.6,1025.2 340.3,1045.5 348.9,1059.1 357.9,1045.5 362.9,1043.3 368.8,1063.6 377.1,1068.5 403.1,1067.6 409.8,1054.5 416.6,1041.0 423.4,1044.4 428.3,1061.3 434.7,1068.5 450.5,1069.2" fill="none" stroke="#8a1cf0" stroke-width="3.5" stroke-dasharray="0.1 7.8" stroke-linecap="round" stroke-linejoin="round"/>
<polyline points="200.0,1069.2 245.1,1069.2 248.5,1063.6 250.8,1045.5 253.7,1007.2 256.4,973.3 258.2,928.2 260.0,894.4 261.4,860.5 262.3,837.9 263.0,825.5 263.4,817.0 264.8,793.9 265.9,777.9 267.7,770.3 268.6,767.1 271.1,765.7 272.2,782.4 273.1,790.1 274.7,800.0 276.9,810.4 278.5,820.3 281.2,825.5 284.6,837.9 288.0,856.0 290.3,871.8 292.5,896.6 294.8,916.9 297.0,935.0 300.4,946.2 306.0,950.8 311.7,953.0 316.2,956.4 320.0,965.4 323.6,977.8 328.6,995.9 333.1,1016.2 338.1,1026.3 344.4,1036.5 351.2,1043.3 357.9,1045.5 364.7,1050.0 372.6,1050.0 380.5,1052.3 387.3,1056.8 394.0,1061.3 399.7,1065.8 407.6,1068.1 425.6,1068.8 450.5,1069.2" fill="none" stroke="#10109a" stroke-width="3.5" stroke-dasharray="0.1 7.8" stroke-linecap="round" stroke-linejoin="round"/>
<line x1="440" y1="1069.5" x2="729" y2="1069.5" stroke="#10109a" stroke-width="3.2" stroke-dasharray="0.1 7.8" stroke-linecap="round"/>
<line x1="123.2" y1="1145.4" x2="190" y2="1145.4" stroke="#3f7f1f" stroke-width="3.3" stroke-dasharray="0.1 7.4" stroke-linecap="round"/>
<text x="200.5" y="1150.5" font-family="Liberation Sans" font-size="20" font-weight="normal" text-anchor="start" fill="#111" letter-spacing="0.6">Control</text>
<line x1="301" y1="1145.4" x2="368" y2="1145.4" stroke="#8a1cf0" stroke-width="3.3" stroke-dasharray="0.1 7.4" stroke-linecap="round"/>
<text x="377.5" y="1150.5" font-family="Liberation Sans" font-size="20" font-weight="normal" text-anchor="start" fill="#111" letter-spacing="0.6">Patient T0</text>
<line x1="504" y1="1145.4" x2="571.5" y2="1145.4" stroke="#10109a" stroke-width="3.3" stroke-dasharray="0.1 7.4" stroke-linecap="round"/>
<text x="580" y="1150.5" font-family="Liberation Sans" font-size="20" font-weight="normal" text-anchor="start" fill="#111" letter-spacing="0.6">Patient T1</text>
<text transform="translate(4.3,1236.2) scale(0.96,1)" font-family="Liberation Sans" font-size="25.5" font-weight="bold" text-anchor="start" fill="#000" >D</text>
<rect x="174" y="1214.6" width="205.3" height="50.30000000000018" fill="#f0f0f0" />
<text transform="translate(276.4,1249.8) scale(0.887,1)" font-family="Liberation Sans" font-size="28.9" font-weight="bold" text-anchor="middle" fill="#111" >pEXO</text>
<line x1="162.4" y1="1318" x2="162.4" y2="1666" stroke="#000" stroke-width="3.3" />
<line x1="149.4" y1="1664.4" x2="390.8" y2="1664.4" stroke="#000" stroke-width="3.3" />
<line x1="149.4" y1="1664.4" x2="162.4" y2="1664.4" stroke="#000" stroke-width="3.2" />
<text transform="translate(142.5,1669.9) scale(0.92,1)" font-family="Liberation Sans" font-size="28" font-weight="bold" text-anchor="end" fill="#111" >0</text>
<line x1="149.4" y1="1615.16" x2="162.4" y2="1615.16" stroke="#000" stroke-width="3.2" />
<text transform="translate(131.6,1622.96) scale(0.906,1)" font-family="Liberation Sans" font-size="28" font-weight="bold" text-anchor="end" fill="#111" >1.0×10</text>
<text transform="translate(135.6,1614.76) scale(0.93,1)" font-family="Liberation Sans" font-size="15" font-weight="bold" text-anchor="start" fill="#111" >9</text>
<line x1="149.4" y1="1565.92" x2="162.4" y2="1565.92" stroke="#000" stroke-width="3.2" />
<text transform="translate(131.6,1573.72) scale(0.906,1)" font-family="Liberation Sans" font-size="28" font-weight="bold" text-anchor="end" fill="#111" >2.0×10</text>
<text transform="translate(135.6,1565.52) scale(0.93,1)" font-family="Liberation Sans" font-size="15" font-weight="bold" text-anchor="start" fill="#111" >9</text>
<line x1="149.4" y1="1516.68" x2="162.4" y2="1516.68" stroke="#000" stroke-width="3.2" />
<text transform="translate(131.6,1524.48) scale(0.906,1)" font-family="Liberation Sans" font-size="28" font-weight="bold" text-anchor="end" fill="#111" >3.0×10</text>
<text transform="translate(135.6,1516.28) scale(0.93,1)" font-family="Liberation Sans" font-size="15" font-weight="bold" text-anchor="start" fill="#111" >9</text>
<line x1="149.4" y1="1467.44" x2="162.4" y2="1467.44" stroke="#000" stroke-width="3.2" />
<text transform="translate(131.6,1475.24) scale(0.906,1)" font-family="Liberation Sans" font-size="28" font-weight="bold" text-anchor="end" fill="#111" >4.0×10</text>
<text transform="translate(135.6,1467.04) scale(0.93,1)" font-family="Liberation Sans" font-size="15" font-weight="bold" text-anchor="start" fill="#111" >9</text>
<line x1="149.4" y1="1418.2" x2="162.4" y2="1418.2" stroke="#000" stroke-width="3.2" />
<text transform="translate(131.6,1426.0) scale(0.906,1)" font-family="Liberation Sans" font-size="28" font-weight="bold" text-anchor="end" fill="#111" >5.0×10</text>
<text transform="translate(135.6,1417.8) scale(0.93,1)" font-family="Liberation Sans" font-size="15" font-weight="bold" text-anchor="start" fill="#111" >9</text>
<line x1="149.4" y1="1368.96" x2="162.4" y2="1368.96" stroke="#000" stroke-width="3.2" />
<text transform="translate(131.6,1376.76) scale(0.906,1)" font-family="Liberation Sans" font-size="28" font-weight="bold" text-anchor="end" fill="#111" >6.0×10</text>
<text transform="translate(135.6,1368.56) scale(0.93,1)" font-family="Liberation Sans" font-size="15" font-weight="bold" text-anchor="start" fill="#111" >9</text>
<line x1="149.4" y1="1319.72" x2="162.4" y2="1319.72" stroke="#000" stroke-width="3.2" />
<text transform="translate(131.6,1327.52) scale(0.906,1)" font-family="Liberation Sans" font-size="28" font-weight="bold" text-anchor="end" fill="#111" >7.0×10</text>
<text transform="translate(135.6,1319.32) scale(0.93,1)" font-family="Liberation Sans" font-size="15" font-weight="bold" text-anchor="start" fill="#111" >9</text>
<text transform="translate(26.3,1491.3) rotate(-90)" font-family="Liberation Sans" font-size="27.5" font-weight="bold" text-anchor="middle" fill="#111">Particles/mL</text>
<line x1="199.5" y1="1664.4" x2="199.5" y2="1677.9" stroke="#000" stroke-width="3.3" />
<line x1="275.3" y1="1664.4" x2="275.3" y2="1677.9" stroke="#000" stroke-width="3.3" />
<line x1="351.5" y1="1664.4" x2="351.5" y2="1677.9" stroke="#000" stroke-width="3.3" />
<text transform="translate(202.5,1698) rotate(-45)" font-family="Liberation Sans" font-size="26" font-weight="bold" text-anchor="end" fill="#111">T0</text>
<text transform="translate(278.5,1698) rotate(-45)" font-family="Liberation Sans" font-size="26" font-weight="bold" text-anchor="end" fill="#111">T1</text>
<text transform="translate(356.5,1698) rotate(-45)" font-family="Liberation Sans" font-size="26" font-weight="bold" text-anchor="end" fill="#111">controls</text>
<circle cx="199.5" cy="1367.8" r="6.1" fill="#0c965c"/>
<circle cx="199.5" cy="1429.6" r="6.1" fill="#0c965c"/>
<circle cx="199.5" cy="1468.2" r="6.1" fill="#0c965c"/>
<circle cx="199.5" cy="1542.4" r="6.1" fill="#0c965c"/>
<circle cx="206.8" cy="1554.9" r="6.1" fill="#0c965c"/>
<circle cx="191.8" cy="1570.3" r="6.1" fill="#0c965c"/>
<circle cx="183.7" cy="1587.5" r="6.1" fill="#0c965c"/>
<circle cx="214.8" cy="1591.4" r="6.1" fill="#0c965c"/>
<circle cx="190.8" cy="1597.1" r="6.1" fill="#0c965c"/>
<circle cx="212.0" cy="1597.1" r="6.1" fill="#0c965c"/>
<circle cx="186.0" cy="1601.9" r="6.1" fill="#0c965c"/>
<circle cx="203.3" cy="1606.7" r="6.1" fill="#0c965c"/>
<circle cx="195.6" cy="1611.5" r="6.1" fill="#0c965c"/>
<circle cx="199.5" cy="1627.8" r="6.1" fill="#0c965c"/>
<circle cx="180.3" cy="1640.3" r="6.1" fill="#0c965c"/>
<circle cx="192.8" cy="1645.1" r="6.1" fill="#0c965c"/>
<circle cx="205.2" cy="1643.2" r="6.1" fill="#0c965c"/>
<circle cx="218.3" cy="1639.7" r="6.1" fill="#0c965c"/>
<line x1="199.5" y1="1554.9" x2="199.5" y2="1627.8" stroke="#0c965c" stroke-width="2.3" />
<line x1="187.0" y1="1554.9" x2="212.0" y2="1554.9" stroke="#0c965c" stroke-width="2.3" />
<line x1="187.0" y1="1627.8" x2="212.0" y2="1627.8" stroke="#0c965c" stroke-width="2.3" />
<line x1="174.2" y1="1597.1" x2="224.4" y2="1597.1" stroke="#000" stroke-width="3.4" />
<path d="M270.0,1365.3L280.4,1375.7M280.4,1365.3L270.0,1375.7" stroke="#0a3a52" stroke-width="3.4" fill="none"/>
<circle cx="275.3" cy="1509.8" r="6.1" fill="#0b4f6c"/>
<circle cx="275.3" cy="1533.8" r="6.1" fill="#0b4f6c"/>
<circle cx="283.0" cy="1546.3" r="6.1" fill="#0b4f6c"/>
<circle cx="267.6" cy="1552.0" r="6.1" fill="#0b4f6c"/>
<circle cx="260.0" cy="1573.1" r="6.1" fill="#0b4f6c"/>
<circle cx="275.3" cy="1573.1" r="6.1" fill="#0b4f6c"/>
<circle cx="290.6" cy="1572.2" r="6.1" fill="#0b4f6c"/>
<circle cx="264.7" cy="1589.4" r="6.1" fill="#0b4f6c"/>
<circle cx="283.0" cy="1587.5" r="6.1" fill="#0b4f6c"/>
<circle cx="260.9" cy="1595.2" r="6.1" fill="#0b4f6c"/>
<circle cx="272.4" cy="1597.1" r="6.1" fill="#0b4f6c"/>
<circle cx="287.7" cy="1593.3" r="6.1" fill="#0b4f6c"/>
<circle cx="268.0" cy="1600.0" r="6.1" fill="#0b4f6c"/>
<circle cx="278.0" cy="1601.0" r="6.1" fill="#0b4f6c"/>
<circle cx="259.9" cy="1616.3" r="6.1" fill="#0b4f6c"/>
<circle cx="275.3" cy="1621.1" r="6.1" fill="#0b4f6c"/>
<circle cx="290.6" cy="1616.3" r="6.1" fill="#0b4f6c"/>
<circle cx="283.0" cy="1632.6" r="6.1" fill="#0b4f6c"/>
<circle cx="267.6" cy="1648.9" r="6.1" fill="#0b4f6c"/>
<line x1="275.3" y1="1553" x2="275.3" y2="1616.3" stroke="#0b4f6c" stroke-width="2.3" />
<line x1="265.3" y1="1553" x2="285.3" y2="1553" stroke="#0b4f6c" stroke-width="2.3" />
<line x1="265.3" y1="1616.3" x2="285.3" y2="1616.3" stroke="#0b4f6c" stroke-width="2.3" />
<line x1="250.3" y1="1589" x2="300.2" y2="1589" stroke="#000" stroke-width="3.4" />
<circle cx="335.7" cy="1595.2" r="6.1" fill="#646464"/>
<circle cx="351.0" cy="1600.0" r="6.1" fill="#646464"/>
<circle cx="366.4" cy="1594.2" r="6.1" fill="#646464"/>
<circle cx="333.8" cy="1612.5" r="6.1" fill="#646464"/>
<circle cx="369.3" cy="1611.5" r="6.1" fill="#646464"/>
<circle cx="343.4" cy="1620.1" r="6.1" fill="#646464"/>
<circle cx="359.7" cy="1621.1" r="6.1" fill="#646464"/>
<circle cx="351.0" cy="1625.9" r="6.1" fill="#646464"/>
<line x1="351" y1="1596.2" x2="351" y2="1625" stroke="#707070" stroke-width="2.3" />
<line x1="341.5" y1="1596.2" x2="360.5" y2="1596.2" stroke="#707070" stroke-width="2.3" />
<line x1="341.5" y1="1625" x2="360.5" y2="1625" stroke="#707070" stroke-width="2.3" />
<line x1="327" y1="1612" x2="376" y2="1612" stroke="#000" stroke-width="3.4" />
<text transform="translate(431.3,1236) scale(0.96,1)" font-family="Liberation Sans" font-size="25.5" font-weight="bold" text-anchor="start" fill="#000" >E</text>
<rect x="528" y="1214.6" width="205.39999999999998" height="50.30000000000018" fill="#f0f0f0" />
<text transform="translate(628,1249.8) scale(0.908,1)" font-family="Liberation Sans" font-size="27.7" font-weight="bold" text-anchor="middle" fill="#111" >miR-1</text>
<line x1="506.4" y1="1318.2" x2="506.4" y2="1666.1999999999998" stroke="#000" stroke-width="3.3" />
<line x1="492.4" y1="1664.6" x2="735" y2="1664.6" stroke="#000" stroke-width="3.3" />
<line x1="492.4" y1="1664.6" x2="506.4" y2="1664.6" stroke="#000" stroke-width="3.2" />
<text transform="translate(488.09999999999997,1671.6999999999998) scale(0.96,1)" font-family="Liberation Serif" font-size="29.5" font-weight="bold" text-anchor="end" fill="#111" >0</text>
<line x1="492.4" y1="1549.6399999999999" x2="506.4" y2="1549.6399999999999" stroke="#000" stroke-width="3.2" />
<text transform="translate(488.09999999999997,1556.7399999999998) scale(0.96,1)" font-family="Liberation Serif" font-size="29.5" font-weight="bold" text-anchor="end" fill="#111" >2</text>
<line x1="492.4" y1="1434.6799999999998" x2="506.4" y2="1434.6799999999998" stroke="#000" stroke-width="3.2" />
<text transform="translate(488.09999999999997,1441.7799999999997) scale(0.96,1)" font-family="Liberation Serif" font-size="29.5" font-weight="bold" text-anchor="end" fill="#111" >4</text>
<line x1="492.4" y1="1319.7199999999998" x2="506.4" y2="1319.7199999999998" stroke="#000" stroke-width="3.2" />
<text transform="translate(488.09999999999997,1326.8199999999997) scale(0.96,1)" font-family="Liberation Serif" font-size="29.5" font-weight="bold" text-anchor="end" fill="#111" >6</text>
<text transform="translate(455.2,1534.2) rotate(-90)" font-family="Liberation Sans" font-weight="bold" fill="#111"><tspan font-size="28.5">2</tspan><tspan font-size="22.5" dy="-13">-</tspan><tspan font-size="22.5" font-weight="normal">ΔΔ</tspan><tspan font-size="22.5">CT</tspan></text>
<line x1="545" y1="1664.6" x2="545" y2="1678.1" stroke="#000" stroke-width="3.3" />
<line x1="620.1" y1="1664.6" x2="620.1" y2="1678.1" stroke="#000" stroke-width="3.3" />
<line x1="696" y1="1664.6" x2="696" y2="1678.1" stroke="#000" stroke-width="3.3" />
<text transform="translate(547.5,1698.5) rotate(-45)" font-family="Liberation Sans" font-size="26" font-weight="bold" text-anchor="end" fill="#111">T0</text>
<text transform="translate(623.5,1698.5) rotate(-45)" font-family="Liberation Sans" font-size="26" font-weight="bold" text-anchor="end" fill="#111">T1</text>
<text transform="translate(699.5,1698.5) rotate(-45)" font-family="Liberation Sans" font-size="26" font-weight="bold" text-anchor="end" fill="#111">controls</text>
<circle cx="544.7" cy="1383.2" r="6.1" fill="#0c965c"/>
<circle cx="552.5" cy="1397.4" r="6.1" fill="#0c965c"/>
<circle cx="536.7" cy="1407.6" r="6.1" fill="#0c965c"/>
<circle cx="560.0" cy="1545.7" r="6.1" fill="#0c965c"/>
<circle cx="529.1" cy="1555.4" r="6.1" fill="#0c965c"/>
<circle cx="544.7" cy="1555.4" r="6.1" fill="#0c965c"/>
<circle cx="552.5" cy="1564.3" r="6.1" fill="#0c965c"/>
<circle cx="536.7" cy="1571.3" r="6.1" fill="#0c965c"/>
<circle cx="536.7" cy="1589.0" r="6.1" fill="#0c965c"/>
<circle cx="531.8" cy="1598.7" r="6.1" fill="#0c965c"/>
<circle cx="540.6" cy="1601.3" r="6.1" fill="#0c965c"/>
<circle cx="545.9" cy="1604.9" r="6.1" fill="#0c965c"/>
<circle cx="553.0" cy="1597.8" r="6.1" fill="#0c965c"/>
<circle cx="558.3" cy="1599.6" r="6.1" fill="#0c965c"/>
<circle cx="544.7" cy="1620.8" r="6.1" fill="#0c965c"/>
<circle cx="536.7" cy="1632.3" r="6.1" fill="#0c965c"/>
<circle cx="560.0" cy="1639.3" r="6.1" fill="#0c965c"/>
<circle cx="552.5" cy="1649.9" r="6.1" fill="#0c965c"/>
<circle cx="536.7" cy="1663.5" r="6.1" fill="#0c965c"/>
<line x1="544.7" y1="1555.4" x2="544.7" y2="1620.8" stroke="#0c965c" stroke-width="2.3" />
<line x1="532.7" y1="1555.4" x2="556.7" y2="1555.4" stroke="#0c965c" stroke-width="2.3" />
<line x1="532.7" y1="1620.8" x2="556.7" y2="1620.8" stroke="#0c965c" stroke-width="2.3" />
<line x1="519.4" y1="1597.3" x2="568.9" y2="1597.3" stroke="#000" stroke-width="3.4" />
<circle cx="620.1" cy="1437.6" r="6.1" fill="#0b4f6c"/>
<circle cx="628.0" cy="1461.0" r="6.1" fill="#0b4f6c"/>
<circle cx="612.7" cy="1471.9" r="6.1" fill="#0b4f6c"/>
<circle cx="620.1" cy="1546.6" r="6.1" fill="#0b4f6c"/>
<circle cx="627.5" cy="1561.3" r="6.1" fill="#0b4f6c"/>
<circle cx="612.7" cy="1574.9" r="6.1" fill="#0b4f6c"/>
<circle cx="635.6" cy="1593.0" r="6.1" fill="#0b4f6c"/>
<circle cx="605.1" cy="1601.3" r="6.1" fill="#0b4f6c"/>
<circle cx="620.1" cy="1608.4" r="6.1" fill="#0b4f6c"/>
<circle cx="612.7" cy="1627.8" r="6.1" fill="#0b4f6c"/>
<circle cx="628.0" cy="1627.8" r="6.1" fill="#0b4f6c"/>
<circle cx="605.1" cy="1640.2" r="6.1" fill="#0b4f6c"/>
<circle cx="635.6" cy="1640.2" r="6.1" fill="#0b4f6c"/>
<circle cx="620.1" cy="1646.7" r="6.1" fill="#0b4f6c"/>
<circle cx="604.2" cy="1657.9" r="6.1" fill="#0b4f6c"/>
<circle cx="611.3" cy="1664.0" r="6.1" fill="#0b4f6c"/>
<circle cx="620.1" cy="1664.0" r="6.1" fill="#0b4f6c"/>
<circle cx="628.0" cy="1664.0" r="6.1" fill="#0b4f6c"/>
<circle cx="636.9" cy="1664.0" r="6.1" fill="#0b4f6c"/>
<line x1="620.1" y1="1561.3" x2="620.1" y2="1657.9" stroke="#0b4f6c" stroke-width="2.3" />
<line x1="610.6" y1="1561.3" x2="629.6" y2="1561.3" stroke="#0b4f6c" stroke-width="2.3" />
<line x1="610.6" y1="1657.9" x2="629.6" y2="1657.9" stroke="#0b4f6c" stroke-width="2.3" />
<line x1="595.4" y1="1628.2" x2="644.8" y2="1628.2" stroke="#000" stroke-width="3.4" />
<circle cx="696.0" cy="1445.9" r="6.1" fill="#646464"/>
<circle cx="696.0" cy="1509.5" r="6.1" fill="#646464"/>
<circle cx="696.0" cy="1573.1" r="6.1" fill="#646464"/>
<circle cx="696.0" cy="1610.2" r="6.1" fill="#646464"/>
<circle cx="688.0" cy="1631.4" r="6.1" fill="#646464"/>
<circle cx="711.0" cy="1634.9" r="6.1" fill="#646464"/>
<circle cx="703.1" cy="1649.9" r="6.1" fill="#646464"/>
<circle cx="688.0" cy="1664.6" r="6.1" fill="#646464"/>
<line x1="696" y1="1525.4" x2="696" y2="1646.4" stroke="#707070" stroke-width="2.3" />
<line x1="683" y1="1525.4" x2="709" y2="1525.4" stroke="#707070" stroke-width="2.3" />
<line x1="683" y1="1646.4" x2="709" y2="1646.4" stroke="#707070" stroke-width="2.3" />
<line x1="671.3" y1="1620.4" x2="720.8" y2="1620.4" stroke="#000" stroke-width="3.4" />
<text transform="translate(752.3,1236) scale(0.96,1)" font-family="Liberation Sans" font-size="25.5" font-weight="bold" text-anchor="start" fill="#000" >F</text>
<rect x="837" y="1212.3" width="207" height="50.700000000000045" fill="#f0f0f0" />
<text transform="translate(939.8,1247.8) scale(0.945,1)" font-family="Liberation Sans" font-size="27.1" font-weight="bold" text-anchor="middle" fill="#111" >miR-21-5p</text>
<line x1="823.8" y1="1322.5" x2="823.8" y2="1668.0" stroke="#000" stroke-width="3.3" />
<line x1="809.8" y1="1666.4" x2="1051.5" y2="1666.4" stroke="#000" stroke-width="3.3" />
<line x1="809.8" y1="1666.4" x2="823.8" y2="1666.4" stroke="#000" stroke-width="3.2" />
<text transform="translate(805.5,1673.5) scale(0.96,1)" font-family="Liberation Serif" font-size="29.5" font-weight="bold" text-anchor="end" fill="#111" >0</text>
<line x1="809.8" y1="1580.775" x2="823.8" y2="1580.775" stroke="#000" stroke-width="3.2" />
<text transform="translate(805.5,1587.875) scale(0.96,1)" font-family="Liberation Serif" font-size="29.5" font-weight="bold" text-anchor="end" fill="#111" >10</text>
<line x1="809.8" y1="1495.15" x2="823.8" y2="1495.15" stroke="#000" stroke-width="3.2" />
<text transform="translate(805.5,1502.25) scale(0.96,1)" font-family="Liberation Serif" font-size="29.5" font-weight="bold" text-anchor="end" fill="#111" >20</text>
<line x1="809.8" y1="1409.525" x2="823.8" y2="1409.525" stroke="#000" stroke-width="3.2" />
<text transform="translate(805.5,1416.625) scale(0.96,1)" font-family="Liberation Serif" font-size="29.5" font-weight="bold" text-anchor="end" fill="#111" >30</text>
<line x1="809.8" y1="1323.9" x2="823.8" y2="1323.9" stroke="#000" stroke-width="3.2" />
<text transform="translate(805.5,1331.0) scale(0.96,1)" font-family="Liberation Serif" font-size="29.5" font-weight="bold" text-anchor="end" fill="#111" >40</text>
<text transform="translate(764.6,1537.5) rotate(-90)" font-family="Liberation Sans" font-weight="bold" fill="#111"><tspan font-size="28.5">2</tspan><tspan font-size="22.5" dy="-13">-</tspan><tspan font-size="22.5" font-weight="normal">ΔΔ</tspan><tspan font-size="22.5">CT</tspan></text>
<line x1="861.6" y1="1666.4" x2="861.6" y2="1679.9" stroke="#000" stroke-width="3.3" />
<line x1="937.1" y1="1666.4" x2="937.1" y2="1679.9" stroke="#000" stroke-width="3.3" />
<line x1="1012" y1="1666.4" x2="1012" y2="1679.9" stroke="#000" stroke-width="3.3" />
<text transform="translate(865.5,1701.5) rotate(-45)" font-family="Liberation Sans" font-size="26" font-weight="bold" text-anchor="end" fill="#111">T0</text>
<text transform="translate(941.5,1701.5) rotate(-45)" font-family="Liberation Sans" font-size="26" font-weight="bold" text-anchor="end" fill="#111">T1</text>
<text transform="translate(1017.5,1701.5) rotate(-45)" font-family="Liberation Sans" font-size="26" font-weight="bold" text-anchor="end" fill="#111">controls</text>
<path d="M936.1,1356 L936.1,1347 L1003.8,1347 L1003.8,1354" stroke="#222" stroke-width="2" fill="none"/>
<text x="970" y="1341" font-family="Liberation Sans" font-size="22" font-weight="bold" text-anchor="middle" fill="#111" >*</text>
<path d="M848.6999999999999,1327.3000000000002L857.9,1336.5M857.9,1327.3000000000002L848.6999999999999,1336.5" stroke="#0b7a4c" stroke-width="3" fill="none"/>
<path d="M865.1999999999999,1339.2L874.4,1348.3999999999999M874.4,1339.2L865.1999999999999,1348.3999999999999" stroke="#0b7a4c" stroke-width="3" fill="none"/>
<path d="M932.5,1361.2L941.7,1370.3999999999999M941.7,1361.2L932.5,1370.3999999999999" stroke="#0a4a6a" stroke-width="3" fill="none"/>
<line x1="836.8" y1="1650.2" x2="885.3" y2="1650.2" stroke="#000" stroke-width="3.4" />
<circle cx="861.5" cy="1526.5" r="6.1" fill="#0c965c"/>
<circle cx="853.9" cy="1608.1" r="6.1" fill="#0c965c"/>
<circle cx="846.1" cy="1619.2" r="6.1" fill="#0c965c"/>
<circle cx="869.4" cy="1617.5" r="6.1" fill="#0c965c"/>
<circle cx="876.9" cy="1621.0" r="6.1" fill="#0c965c"/>
<circle cx="862.0" cy="1635.1" r="6.1" fill="#0c965c"/>
<circle cx="854.4" cy="1638.7" r="6.1" fill="#0c965c"/>
<circle cx="843.0" cy="1651.0" r="6.1" fill="#0c965c"/>
<circle cx="850.9" cy="1652.8" r="6.1" fill="#0c965c"/>
<circle cx="858.0" cy="1656.3" r="6.1" fill="#0c965c"/>
<circle cx="865.9" cy="1658.0" r="6.1" fill="#0c965c"/>
<circle cx="873.0" cy="1651.9" r="6.1" fill="#0c965c"/>
<circle cx="880.0" cy="1651.0" r="6.1" fill="#0c965c"/>
<circle cx="869.4" cy="1648.4" r="6.1" fill="#0c965c"/>
<circle cx="861.5" cy="1662.5" r="6.1" fill="#0c965c"/>
<circle cx="855.3" cy="1660.8" r="6.1" fill="#0c965c"/>
<circle cx="867.7" cy="1661.6" r="6.1" fill="#0c965c"/>
<circle cx="861.5" cy="1666.5" r="6.1" fill="#0c965c"/>
<line x1="861.6" y1="1616.6" x2="861.6" y2="1650" stroke="#0c965c" stroke-width="2.3" />
<line x1="855.0" y1="1616.6" x2="868.2" y2="1616.6" stroke="#0c965c" stroke-width="2.3" />
<line x1="855.0" y1="1650" x2="868.2" y2="1650" stroke="#0c965c" stroke-width="2.3" />
<circle cx="937.1" cy="1461.2" r="6.1" fill="#0b4f6c"/>
<circle cx="937.1" cy="1500.0" r="6.1" fill="#0b4f6c"/>
<circle cx="918.0" cy="1574.2" r="6.1" fill="#0b4f6c"/>
<circle cx="955.6" cy="1580.4" r="6.1" fill="#0b4f6c"/>
<circle cx="930.4" cy="1586.6" r="6.1" fill="#0b4f6c"/>
<circle cx="942.7" cy="1589.2" r="6.1" fill="#0b4f6c"/>
<circle cx="921.5" cy="1608.7" r="6.1" fill="#0b4f6c"/>
<circle cx="937.1" cy="1621.9" r="6.1" fill="#0b4f6c"/>
<circle cx="952.1" cy="1621.9" r="6.1" fill="#0b4f6c"/>
<circle cx="929.5" cy="1633.4" r="6.1" fill="#0b4f6c"/>
<circle cx="919.8" cy="1650.2" r="6.1" fill="#0b4f6c"/>
<circle cx="926.0" cy="1656.3" r="6.1" fill="#0b4f6c"/>
<circle cx="933.0" cy="1660.8" r="6.1" fill="#0b4f6c"/>
<circle cx="940.0" cy="1663.4" r="6.1" fill="#0b4f6c"/>
<circle cx="946.3" cy="1659.0" r="6.1" fill="#0b4f6c"/>
<circle cx="952.5" cy="1653.7" r="6.1" fill="#0b4f6c"/>
<circle cx="944.5" cy="1646.6" r="6.1" fill="#0b4f6c"/>
<circle cx="937.1" cy="1665.2" r="6.1" fill="#0b4f6c"/>
<line x1="937.1" y1="1580.4" x2="937.1" y2="1654.6" stroke="#0b4f6c" stroke-width="2.3" />
<line x1="923.1" y1="1580.4" x2="951.1" y2="1580.4" stroke="#0b4f6c" stroke-width="2.3" />
<line x1="923.1" y1="1654.6" x2="951.1" y2="1654.6" stroke="#0b4f6c" stroke-width="2.3" />
<line x1="911.8" y1="1622.4" x2="961.3" y2="1622.4" stroke="#000" stroke-width="3.4" />
<circle cx="1012.5" cy="1620.1" r="6.1" fill="#646464"/>
<circle cx="1012.5" cy="1646.6" r="6.1" fill="#646464"/>
<circle cx="1003.7" cy="1654.6" r="6.1" fill="#646464"/>
<circle cx="1021.3" cy="1653.7" r="6.1" fill="#646464"/>
<circle cx="996.6" cy="1659.0" r="6.1" fill="#646464"/>
<circle cx="1028.4" cy="1659.0" r="6.1" fill="#646464"/>
<circle cx="1012.5" cy="1664.3" r="6.1" fill="#646464"/>
<circle cx="1006.0" cy="1662.0" r="6.1" fill="#646464"/>
<circle cx="1019.0" cy="1662.0" r="6.1" fill="#646464"/>
<line x1="986.9" y1="1659" x2="1036.3" y2="1659" stroke="#000" stroke-width="3.4" />
<text transform="translate(1062.2,1236) scale(0.96,1)" font-family="Liberation Sans" font-size="25.5" font-weight="bold" text-anchor="start" fill="#000" >G</text>
<rect x="1141.2" y="1216.3" width="205.0" height="48.600000000000136" fill="#f0f0f0" />
<text transform="translate(1242.1,1249.3) scale(0.94,1)" font-family="Liberation Sans" font-size="27.3" font-weight="bold" text-anchor="middle" fill="#111" >miR-133a</text>
<line x1="1126" y1="1322.5" x2="1126" y2="1668.0" stroke="#000" stroke-width="3.3" />
<line x1="1112" y1="1666.4" x2="1355.4" y2="1666.4" stroke="#000" stroke-width="3.3" />
<line x1="1112" y1="1666.4" x2="1126" y2="1666.4" stroke="#000" stroke-width="3.2" />
<text transform="translate(1107.7,1673.5) scale(0.96,1)" font-family="Liberation Serif" font-size="29.5" font-weight="bold" text-anchor="end" fill="#111" >0</text>
<line x1="1112" y1="1552.26" x2="1126" y2="1552.26" stroke="#000" stroke-width="3.2" />
<text transform="translate(1107.7,1559.36) scale(0.96,1)" font-family="Liberation Serif" font-size="29.5" font-weight="bold" text-anchor="end" fill="#111" >2</text>
<line x1="1112" y1="1438.1200000000001" x2="1126" y2="1438.1200000000001" stroke="#000" stroke-width="3.2" />
<text transform="translate(1107.7,1445.22) scale(0.96,1)" font-family="Liberation Serif" font-size="29.5" font-weight="bold" text-anchor="end" fill="#111" >4</text>
<line x1="1112" y1="1323.98" x2="1126" y2="1323.98" stroke="#000" stroke-width="3.2" />
<text transform="translate(1107.7,1331.08) scale(0.96,1)" font-family="Liberation Serif" font-size="29.5" font-weight="bold" text-anchor="end" fill="#111" >6</text>
<text transform="translate(1080,1537.8) rotate(-90)" font-family="Liberation Sans" font-weight="bold" fill="#111"><tspan font-size="28.5">2</tspan><tspan font-size="22.5" dy="-13">-</tspan><tspan font-size="22.5" font-weight="normal">ΔΔ</tspan><tspan font-size="22.5">CT</tspan></text>
<line x1="1163.2" y1="1666.4" x2="1163.2" y2="1679.9" stroke="#000" stroke-width="3.3" />
<line x1="1238.8" y1="1666.4" x2="1238.8" y2="1679.9" stroke="#000" stroke-width="3.3" />
<line x1="1315.3" y1="1666.4" x2="1315.3" y2="1679.9" stroke="#000" stroke-width="3.3" />
<text transform="translate(1167.5,1701.5) rotate(-45)" font-family="Liberation Sans" font-size="26" font-weight="bold" text-anchor="end" fill="#111">T0</text>
<text transform="translate(1243.5,1701.5) rotate(-45)" font-family="Liberation Sans" font-size="26" font-weight="bold" text-anchor="end" fill="#111">T1</text>
<text transform="translate(1320.5,1701.5) rotate(-45)" font-family="Liberation Sans" font-size="26" font-weight="bold" text-anchor="end" fill="#111">controls</text>
<circle cx="1163.2" cy="1453.2" r="5.9" fill="#0c965c"/>
<circle cx="1163.2" cy="1481.9" r="5.9" fill="#0c965c"/>
<circle cx="1155.5" cy="1529.9" r="5.9" fill="#0c965c"/>
<circle cx="1170.8" cy="1539.5" r="5.9" fill="#0c965c"/>
<circle cx="1163.2" cy="1554.8" r="5.9" fill="#0c965c"/>
<circle cx="1155.5" cy="1582.6" r="5.9" fill="#0c965c"/>
<circle cx="1170.8" cy="1583.6" r="5.9" fill="#0c965c"/>
<circle cx="1147.8" cy="1607.6" r="5.9" fill="#0c965c"/>
<circle cx="1144.0" cy="1622.0" r="5.9" fill="#0c965c"/>
<circle cx="1163.2" cy="1619.1" r="5.9" fill="#0c965c"/>
<circle cx="1178.5" cy="1616.2" r="5.9" fill="#0c965c"/>
<circle cx="1182.3" cy="1625.8" r="5.9" fill="#0c965c"/>
<circle cx="1146.9" cy="1642.1" r="5.9" fill="#0c965c"/>
<circle cx="1156.4" cy="1636.4" r="5.9" fill="#0c965c"/>
<circle cx="1154.5" cy="1645.0" r="5.9" fill="#0c965c"/>
<circle cx="1169.9" cy="1637.3" r="5.9" fill="#0c965c"/>
<circle cx="1171.8" cy="1646.9" r="5.9" fill="#0c965c"/>
<circle cx="1180.4" cy="1643.1" r="5.9" fill="#0c965c"/>
<circle cx="1163.2" cy="1655.5" r="5.9" fill="#0c965c"/>
<line x1="1163.2" y1="1554.8" x2="1163.2" y2="1643" stroke="#0c965c" stroke-width="2.3" />
<line x1="1150.7" y1="1554.8" x2="1175.7" y2="1554.8" stroke="#0c965c" stroke-width="2.3" />
<line x1="1150.7" y1="1643" x2="1175.7" y2="1643" stroke="#0c965c" stroke-width="2.3" />
<line x1="1138.2" y1="1619.7" x2="1188.1" y2="1619.7" stroke="#000" stroke-width="3.4" />
<circle cx="1238.9" cy="1357.3" r="5.9" fill="#0b4f6c"/>
<circle cx="1238.9" cy="1374.5" r="5.9" fill="#0b4f6c"/>
<circle cx="1238.9" cy="1508.8" r="5.9" fill="#0b4f6c"/>
<circle cx="1238.9" cy="1529.9" r="5.9" fill="#0b4f6c"/>
<circle cx="1231.3" cy="1561.5" r="5.9" fill="#0b4f6c"/>
<circle cx="1246.6" cy="1558.7" r="5.9" fill="#0b4f6c"/>
<circle cx="1231.3" cy="1578.8" r="5.9" fill="#0b4f6c"/>
<circle cx="1246.6" cy="1579.8" r="5.9" fill="#0b4f6c"/>
<circle cx="1238.9" cy="1621.0" r="5.9" fill="#0b4f6c"/>
<circle cx="1231.3" cy="1632.5" r="5.9" fill="#0b4f6c"/>
<circle cx="1221.7" cy="1641.1" r="5.9" fill="#0b4f6c"/>
<circle cx="1229.3" cy="1645.0" r="5.9" fill="#0b4f6c"/>
<circle cx="1237.0" cy="1648.8" r="5.9" fill="#0b4f6c"/>
<circle cx="1244.7" cy="1646.9" r="5.9" fill="#0b4f6c"/>
<circle cx="1252.4" cy="1642.1" r="5.9" fill="#0b4f6c"/>
<circle cx="1257.1" cy="1644.0" r="5.9" fill="#0b4f6c"/>
<circle cx="1238.9" cy="1655.5" r="5.9" fill="#0b4f6c"/>
<circle cx="1233.2" cy="1650.7" r="5.9" fill="#0b4f6c"/>
<circle cx="1246.6" cy="1651.7" r="5.9" fill="#0b4f6c"/>
<line x1="1238.9" y1="1551" x2="1238.9" y2="1642" stroke="#0b4f6c" stroke-width="2.3" />
<line x1="1226.4" y1="1551" x2="1251.4" y2="1551" stroke="#0b4f6c" stroke-width="2.3" />
<line x1="1226.4" y1="1642" x2="1251.4" y2="1642" stroke="#0b4f6c" stroke-width="2.3" />
<line x1="1214" y1="1626.8" x2="1263.9" y2="1626.8" stroke="#000" stroke-width="3.4" />
<circle cx="1314.7" cy="1508.8" r="5.9" fill="#646464"/>
<circle cx="1322.4" cy="1520.3" r="5.9" fill="#646464"/>
<circle cx="1307.0" cy="1529.9" r="5.9" fill="#646464"/>
<circle cx="1314.7" cy="1582.6" r="5.9" fill="#646464"/>
<circle cx="1314.7" cy="1614.3" r="5.9" fill="#646464"/>
<circle cx="1314.7" cy="1633.5" r="5.9" fill="#646464"/>
<circle cx="1307.0" cy="1648.8" r="5.9" fill="#646464"/>
<circle cx="1322.4" cy="1646.9" r="5.9" fill="#646464"/>
<line x1="1314.7" y1="1523.2" x2="1314.7" y2="1644" stroke="#707070" stroke-width="2.3" />
<line x1="1304.7" y1="1523.2" x2="1324.7" y2="1523.2" stroke="#707070" stroke-width="2.3" />
<line x1="1304.7" y1="1644" x2="1324.7" y2="1644" stroke="#707070" stroke-width="2.3" />
<line x1="1289.8" y1="1599" x2="1339.6" y2="1599" stroke="#000" stroke-width="3.4" />
</svg>
</body></html>
